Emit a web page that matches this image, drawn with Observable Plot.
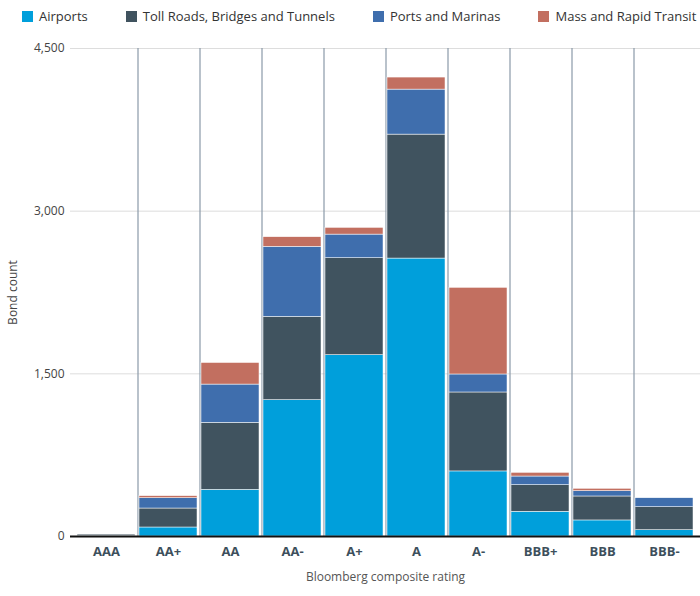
<!DOCTYPE html>
<html><head><meta charset="utf-8">
<script src="https://cdn.jsdelivr.net/npm/d3@7"></script>
<script src="https://cdn.jsdelivr.net/npm/@observablehq/plot@0.6"></script>
<style>
body{margin:0;font-family:"Open Sans",sans-serif;background:#fff}
#legend{height:32px;display:flex;align-items:center;padding-left:22px;font-size:13px;color:#333;white-space:nowrap}
#legend span.item{display:flex;align-items:center;margin-right:38px}
#legend i{display:inline-block;width:11px;height:11px;margin-right:6px}
</style></head><body>
<div id="legend"></div>
<div id="chart"></div>
<script>
const ratings = ["AAA","AA+","AA","AA-","A+","A","A-","BBB+","BBB","BBB-"];
const seriesNames = ["Airports","Toll Roads, Bridges and Tunnels","Ports and Marinas","Mass and Rapid Transit"];
const colors = ["#009fdb","#40535f","#3f6ead","#c26f60"];
const airports = [5,83,430,1257,1672,2563,600,228,148,58];
const tollRoads = [12,175,618,768,894,1143,728,245,221,212];
const ports = [0,95,353,646,218,415,166,80,49,83];
const transit = [0,19,199,89,62,111,799,34,22,0];
const series = [airports,tollRoads,ports,transit];
const data = [];
ratings.forEach((r,i)=>series.forEach((s,j)=>data.push({rating:r,series:seriesNames[j],value:s[i]})));

const lg = document.getElementById("legend");
seriesNames.forEach((n,j)=>{lg.innerHTML += `<span class="item"><i style="background:${colors[j]}"></i>${n}</span>`;});

const plot = Plot.plot({
  width:700, height:564,
  marginTop:16, marginBottom:60, marginLeft:70, marginRight:0,
  style:{fontFamily:"Open Sans, sans-serif", fontSize:"12px", color:"#555"},
  x:{domain:ratings, padding:0.06},
  y:{domain:[0,4500]},
  color:{domain:seriesNames, range:colors},
  marks:[
    Plot.ruleY([1500,3000,4500],{stroke:"#ddd"}),
    Plot.ruleX(ratings.slice(0,-1),{x:d=>d, dx:31.5, y1:0, y2:4500, stroke:"#8a99a8", strokeWidth:1.2}),
    Plot.barY(data, Plot.stackY({x:"rating", y:"value", fill:"series", order:seriesNames, stroke:"white", strokeWidth:0.5})),
    Plot.axisY({ticks:[0,1500,3000,4500], tickFormat:d3.format(","), tickSize:0, tickPadding:6, label:"Bond count", labelAnchor:"center", labelArrow:"none", labelOffset:62, fill:"#444"}),
    Plot.axisX({tickSize:0, tickPadding:10, fontWeight:"bold", fill:"#3d4f5c", fontSize:13, label:null}),
    Plot.axisX({ticks:[], tickSize:0, label:"Bloomberg composite rating", labelAnchor:"center", labelArrow:"none", labelOffset:44, fill:"#555"}),
    Plot.ruleY([0],{stroke:"#111", strokeWidth:2})
  ]
});
document.getElementById("chart").appendChild(plot);
</script></body></html>
